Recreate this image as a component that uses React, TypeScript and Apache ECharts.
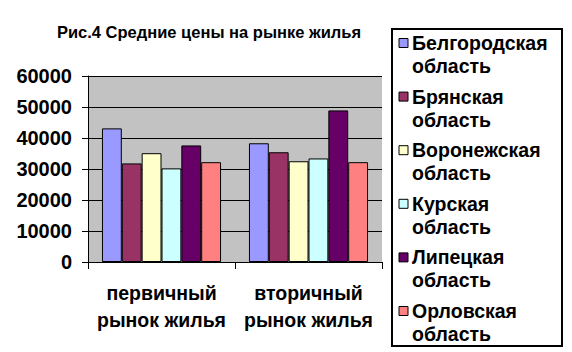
import React, { useEffect, useRef } from "react";
import * as echarts from "echarts";

const categories = ["первичный\nрынок жилья", "вторичный\nрынок жилья"];
const regions = [
  "Белгородская область",
  "Брянская область",
  "Воронежская область",
  "Курская область",
  "Липецкая область",
  "Орловская область",
];
const belgorod = [43100, 38300];
const bryansk = [31800, 35400];
const voronezh = [35100, 32500];
const kursk = [30200, 33400];
const lipetsk = [37600, 48900];
const orel = [32200, 32200];
const seriesValues = [belgorod, bryansk, voronezh, kursk, lipetsk, orel];
const colors = ["#9999FF", "#993366", "#FFFFCC", "#CCFFFF", "#660066", "#FF8080"];
const title = "Рис.4 Средние цены на рынке жилья";

const FONT = "'Liberation Sans', Arial, sans-serif";

export default function App() {
  const ref = useRef<HTMLDivElement>(null);
  useEffect(() => {
    if (!ref.current) return;
    const chart = echarts.init(ref.current, null, { renderer: "svg" });
    const legendElems: any[] = [
      {
        type: "rect",
        shape: { x: 392, y: 29, width: 170, height: 317 },
        style: { fill: "#ffffff", stroke: "#000000", lineWidth: 2 },
      },
    ];
    regions.forEach((name, i) => {
      const y0 = 43 + i * 53.6;
      legendElems.push({
        type: "rect",
        shape: { x: 399, y: y0 - 4.5, width: 9, height: 9 },
        style: { fill: colors[i], stroke: "#000000", lineWidth: 1 },
      });
      legendElems.push({
        type: "text",
        x: 412,
        y: y0 - 11.5,
        style: {
          text: name.replace(" ", "\n"),
          fontFamily: FONT,
          fontWeight: "bold",
          fontSize: 19.5,
          lineHeight: 23,
          fill: "#000000",
          verticalAlign: "top",
        },
      });
    });
    chart.setOption({
      animation: false,
      backgroundColor: "#ffffff",
      title: {
        text: title,
        left: 204,
        top: 18,
        textAlign: "center",
        textStyle: { fontFamily: FONT, fontWeight: "bold", fontSize: 16.5, color: "#000" },
      },
      grid: {
        left: 88,
        top: 76,
        width: 294,
        height: 186,
        show: true,
        backgroundColor: "#c2c2c2",
        borderWidth: 0,
      },
      xAxis: {
        type: "category",
        data: categories,
        axisLine: { lineStyle: { color: "#000", width: 1 } },
        axisTick: { show: true, length: 7, lineStyle: { color: "#000" } },
        axisLabel: {
          interval: 0,
          margin: 17,
          fontFamily: FONT,
          fontWeight: "bold",
          fontSize: 19.5,
          lineHeight: 27,
          color: "#000",
        },
      },
      yAxis: {
        type: "value",
        min: 0,
        max: 60000,
        interval: 10000,
        axisLine: { show: true, lineStyle: { color: "#000", width: 1 } },
        axisTick: { show: true, length: 6, lineStyle: { color: "#000" } },
        splitLine: { show: true, lineStyle: { color: "#000", width: 1 } },
        axisLabel: {
          margin: 16,
          fontFamily: FONT,
          fontWeight: "bold",
          fontSize: 20,
          color: "#000",
          formatter: (v: number) => String(v),
        },
      },
      series: regions.map((name, i) => ({
        type: "bar",
        name,
        data: seriesValues[i],
        barGap: "0%",
        barCategoryGap: "19%",
        itemStyle: { color: colors[i], borderColor: "#000", borderWidth: 1 },
      })),
      graphic: legendElems,
    });
    return () => chart.dispose();
  }, []);
  return (
    <div
      ref={ref}
      style={{ position: "fixed", left: 0, top: 0, width: 572, height: 352 }}
    />
  );
}
